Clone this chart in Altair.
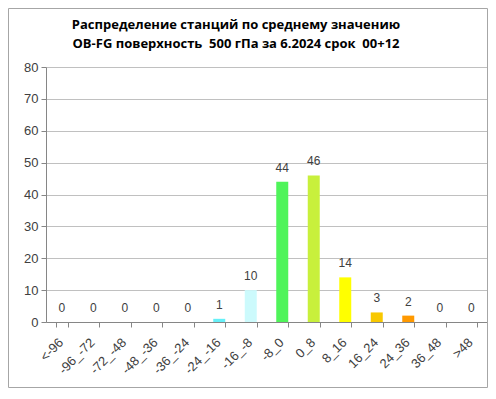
import altair as alt
import pandas as pd

categories = ["<-96", "-96_-72", "-72_-48", "-48_-36", "-36_-24", "-24_-16", "-16_-8",
              "-8_0", "0_8", "8_16", "16_24", "24_36", "36_48", ">48"]
counts = [0, 0, 0, 0, 0, 1, 10, 44, 46, 14, 3, 2, 0, 0]
colors = ["#66F0F8", "#66F0F8", "#66F0F8", "#66F0F8", "#66F0F8", "#66F0F8", "#CCFAFC",
          "#4FF45A", "#C8F03C", "#FFFF00", "#F8C800", "#FF9900", "#FF9900", "#FF9900"]
title_lines = ["Распределение станций по среднему значению",
               "OB-FG поверхность \u00a0500 гПа за 6.2024 срок \u00a000+12"]

df = pd.DataFrame({"cat": categories, "n": counts, "col": colors})

W, H = 441, 255
PL, PT, PR, PB = 38, 59, 1, 66

x = alt.X("cat:N", sort=categories, title=None,
          scale=alt.Scale(paddingInner=0.62, paddingOuter=0.31),
          axis=alt.Axis(labelAngle=-45, labelAlign="right", labelBaseline="middle",
                        labelFont="Liberation Sans", labelFontSize=13,
                        labelColor="#404040", tickBand="extent", tickSize=5,
                        tickColor="#868686", domainColor="#868686", labelPadding=13,
                        labelOffset=-1, labelOverlap=False))
y = alt.Y("n:Q", title=None,
          scale=alt.Scale(domain=[0, 80]),
          axis=alt.Axis(values=list(range(0, 81, 10)), labelFont="Liberation Sans",
                        labelFontSize=13, labelColor="#404040", tickSize=5,
                        tickColor="#868686", domainColor="#868686", gridColor="#C0C0C0",
                        labelPadding=3, labelOverlap=False, labelFlush=False))

bars = alt.Chart(df).mark_bar(size=12).encode(
    x=x, y=y, color=alt.Color("col:N", scale=None))

labels = alt.Chart(df).mark_text(dy=-7, font="Liberation Sans", fontSize=12,
                                 color="#404040", baseline="bottom").encode(
    x=x, y=y, text="n:Q")

tdf = pd.DataFrame({"t": title_lines})
t1 = alt.Chart(tdf.iloc[[0]]).mark_text(font="Open Sans", fontWeight="bold", fontSize=13,
                                        color="#000000", align="center",
                                        baseline="alphabetic").encode(
    text="t:N", x=alt.value(190), y=alt.value(-38))
t2 = alt.Chart(tdf.iloc[[1]]).mark_text(font="Open Sans", fontWeight="bold", fontSize=13,
                                        color="#000000", align="center",
                                        baseline="alphabetic").encode(
    text="t:N", x=alt.value(190), y=alt.value(-19))

frame = alt.Chart(pd.DataFrame({"a": [0]})).mark_rect(
    fill=None, stroke="#A6A6A6", strokeWidth=1).encode(
    x=alt.value(-PL + 0.5), x2=alt.value(W + PR - 0.5),
    y=alt.value(-PT + 0.5), y2=alt.value(H + PB - 0.5))

chart = alt.layer(bars, labels, t1, t2, frame).properties(
    width=W, height=H, padding={"left": PL, "top": PT, "right": PR, "bottom": PB},
    autosize=alt.AutoSizeParams(type="none"),
    background="#FFFFFF"
).configure_view(stroke=None)

chart.save("out.html", embed_options={"renderer": "svg", "actions": False})
